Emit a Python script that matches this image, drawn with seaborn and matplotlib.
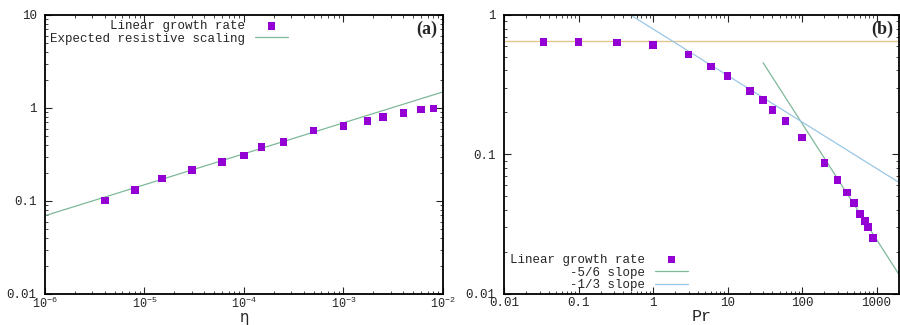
import numpy as np
import pandas as pd
import matplotlib
matplotlib.use("Agg")
import matplotlib.pyplot as plt
import matplotlib.ticker as mticker
import seaborn as sns

# ---- Panel (a) data ----
eta = [4e-6, 8e-6, 1.5e-5, 3e-5, 6e-5, 1e-4, 1.5e-4, 2.5e-4, 5e-4, 1e-3,
       1.75e-3, 2.5e-3, 4e-3, 6e-3, 8e-3]
growth_a = [0.101, 0.132, 0.174, 0.214, 0.262, 0.307, 0.381, 0.431, 0.575,
            0.645, 0.73, 0.80, 0.889, 0.96, 0.983]
resist_eta = [1e-6, 1e-2]
resist_gamma = [0.0695, 1.49]

# ---- Panel (b) data ----
pr = [0.034, 0.1, 0.33, 1, 3, 6, 10, 20, 30, 40, 60, 100, 200, 300, 400,
      500, 600, 700, 770, 900]
growth_b = [0.643, 0.643, 0.637, 0.609, 0.522, 0.428, 0.367, 0.286, 0.245,
            0.209, 0.173, 0.132, 0.087, 0.0654, 0.0534, 0.0447, 0.0373,
            0.0332, 0.0302, 0.0252]
slope56_x = [30, 2000]
slope56_y = [0.455, 0.0138]
slope13_x = [0.5, 2000]
slope13_y = [1.0, 0.063]
flat_x = [0.01, 2000]
flat_y = [0.647, 0.647]

sns.set_style("ticks")
plt.rcParams['font.family'] = ['Liberation Mono', 'DejaVu Sans']
plt.rcParams['mathtext.fontset'] = 'dejavusans'

PURPLE = "#9400d3"
GREEN = "#7fb89a"
BLUE = "#9ac6e6"
ORANGE = "#e2c690"

fig = plt.figure(figsize=(9, 3.25), dpi=100)
axa = fig.add_axes([0.05, 0.0954, 0.4422, 0.8585])
axb = fig.add_axes([0.56, 0.0954, 0.4389, 0.8585])

df_a = pd.DataFrame({"eta": eta, "gamma": growth_a})
df_res = pd.DataFrame({"eta": resist_eta, "gamma": resist_gamma})
sns.scatterplot(data=df_a, x="eta", y="gamma", ax=axa, marker="s", s=30,
                color=PURPLE, edgecolor="none", label="Linear growth rate", zorder=3)
sns.lineplot(data=df_res, x="eta", y="gamma", ax=axa, color=GREEN, lw=0.9,
             label="Expected resistive scaling", zorder=2)

df_b = pd.DataFrame({"pr": pr, "gamma": growth_b})
sns.scatterplot(data=df_b, x="pr", y="gamma", ax=axb, marker="s", s=30,
                color=PURPLE, edgecolor="none", label="Linear growth rate", zorder=3)
sns.lineplot(data=pd.DataFrame({"x": slope56_x, "y": slope56_y}), x="x", y="y",
             ax=axb, color=GREEN, lw=0.9, label="-5/6 slope", zorder=2)
sns.lineplot(data=pd.DataFrame({"x": slope13_x, "y": slope13_y}), x="x", y="y",
             ax=axb, color=BLUE, lw=0.9, label="-1/3 slope", zorder=2)
sns.lineplot(data=pd.DataFrame({"x": flat_x, "y": flat_y}), x="x", y="y",
             ax=axb, color=ORANGE, lw=1.0, zorder=1, legend=False)

for ax in (axa, axb):
    ax.set_xscale("log")
    ax.set_yscale("log")
    for s in ax.spines.values():
        s.set_visible(True)
        s.set_linewidth(1.3)
        s.set_color("black")
    ax.tick_params(which="major", direction="in", length=5, width=0.8,
                   top=True, right=True, labelsize=9, pad=3)
    ax.tick_params(which="minor", direction="in", length=2.5, width=0.6,
                   top=True, right=True)
    ax.xaxis.set_minor_locator(mticker.LogLocator(base=10, subs=np.arange(2, 10), numticks=100))
    ax.yaxis.set_minor_locator(mticker.LogLocator(base=10, subs=np.arange(2, 10), numticks=100))
    ax.set_ylabel("")

axa.set_xlim(1e-6, 1e-2)
axa.set_ylim(0.01, 10)
axa.xaxis.set_major_locator(mticker.LogLocator(base=10, numticks=10))
axa.xaxis.set_major_formatter(mticker.LogFormatterSciNotation())
axa.yaxis.set_major_formatter(mticker.FuncFormatter(lambda v, p: "%g" % v))
axa.tick_params(axis="y", pad=6)
axa.tick_params(axis="x", pad=1, labelsize=8.5)
axa.set_xlabel("η", family="DejaVu Sans", fontsize=10.5)
axa.xaxis.set_label_coords(0.5, -0.056)

axb.set_xlim(0.01, 2000)
axb.set_ylim(0.01, 1)
axb.xaxis.set_major_locator(mticker.LogLocator(base=10, numticks=10))
axb.xaxis.set_major_formatter(mticker.FuncFormatter(lambda v, p: "%g" % v))
axb.yaxis.set_major_formatter(mticker.FuncFormatter(lambda v, p: "%g" % v))
axb.tick_params(axis="y", pad=6)
axb.tick_params(axis="x", pad=2)
axb.set_xlabel("Pr", fontsize=12, labelpad=0)

axa.legend(loc="upper right", bbox_to_anchor=(0.61, 0.982), frameon=False,
           markerfirst=False, fontsize=9, handlelength=2.6, handletextpad=0.8,
           labelspacing=0.05, borderpad=0, borderaxespad=0)
axb.legend(loc="lower right", bbox_to_anchor=(0.465, 0.01), frameon=False,
           markerfirst=False, fontsize=9, handlelength=2.6, handletextpad=0.8,
           labelspacing=0.05, borderpad=0, borderaxespad=0)

axa.text(0.985, 0.95, "(a)", transform=axa.transAxes, ha="right", va="center",
         family="Liberation Serif", fontweight="bold", fontsize=13)
axb.text(0.985, 0.95, "(b)", transform=axb.transAxes, ha="right", va="center",
         family="Liberation Serif", fontweight="bold", fontsize=13)

fig.savefig("out.png", dpi=100)
